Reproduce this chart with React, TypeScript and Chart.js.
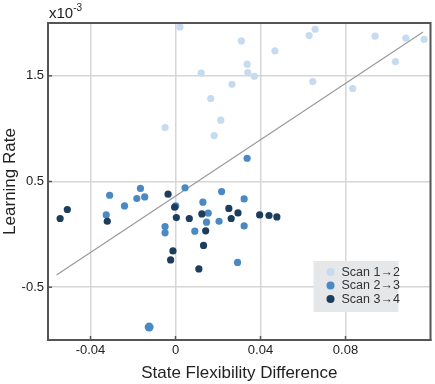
import React, { useEffect, useRef } from "react";
import { Chart, registerables } from "chart.js";

Chart.register(...registerables);

// values in units of 1e-3 for learning rate
const scan12X = [0.0021, 0.0121, 0.0266, 0.0166, 0.0213, -0.0049, 0.0182, 0.031, 0.0337, 0.034, 0.0371, 0.0468, 0.0629, 0.0657, 0.0646, 0.0834, 0.0939, 0.1035, 0.1084, 0.117];
const scan12Y = [1.963, 1.525, 1.42, 1.285, 1.08, 1.011, 0.935, 1.83, 1.61, 1.531, 1.496, 1.736, 1.881, 1.941, 1.446, 1.38, 1.875, 1.635, 1.856, 1.846];

const scan23X = [-0.0165, -0.031, -0.0182, -0.0145, -0.024, -0.0326, 0.0045, 0.0001, -0.0049, -0.0049, 0.0129, 0.0154, 0.0146, 0.0091, 0.0205, 0.0217, 0.0292, -0.0124, 0.0323, 0.0323, 0.0337];
const scan23Y = [0.434, 0.37, 0.339, 0.354, 0.269, 0.184, 0.44, 0.269, 0.074, 0.014, 0.304, 0.2, 0.115, 0.03, 0.124, 0.405, -0.266, -0.878, 0.335, 0.08, 0.72];

const scan34X = [-0.0543, -0.0509, -0.0321, -0.0035, -0.0004, 0.0004, 0.0065, 0.0124, 0.0142, 0.0132, -0.0012, -0.0023, 0.011, 0.0251, 0.0262, 0.0294, 0.0396, 0.044, 0.0477];
const scan34Y = [0.15, 0.235, 0.124, 0.38, 0.257, 0.159, 0.15, 0.193, 0.033, -0.105, -0.157, -0.242, -0.327, 0.245, 0.15, 0.203, 0.184, 0.178, 0.165];

const trendX = [-0.056, 0.1165];
const trendY = [-0.384, 1.916];

const seriesLabels = ["Scan 1\u21922", "Scan 2\u21923", "Scan 3\u21924"];
const seriesColors = ["#c6dbef", "#4a89c4", "#1d3d5c"];

const xTicks = [-0.04, 0, 0.04, 0.08];
const yTicks = [-0.5, 0.5, 1.5];

const FONT = "'Liberation Sans', Arial, sans-serif";

const toPts = (xs: number[], ys: number[]) => xs.map((x, i) => ({ x, y: ys[i] }));

const framePlugin = {
  id: "frame",
  afterDraw(chart: any) {
    const { ctx, chartArea: a, scales } = chart;
    ctx.save();
    // inward tick marks
    ctx.strokeStyle = "#555";
    ctx.lineWidth = 1.5;
    xTicks.forEach((v) => {
      const px = scales.x.getPixelForValue(v);
      ctx.beginPath();
      ctx.moveTo(px, a.bottom);
      ctx.lineTo(px, a.bottom - 4);
      ctx.stroke();
    });
    yTicks.forEach((v) => {
      const py = scales.y.getPixelForValue(v);
      ctx.beginPath();
      ctx.moveTo(a.left, py);
      ctx.lineTo(a.left + 4, py);
      ctx.stroke();
    });
    // box
    ctx.strokeStyle = "#555";
    ctx.lineWidth = 2;
    ctx.strokeRect(a.left, a.top, a.right - a.left, a.bottom - a.top);
    // exponent label
    ctx.fillStyle = "#222";
    ctx.textBaseline = "alphabetic";
    ctx.textAlign = "left";
    ctx.font = `15px ${FONT}`;
    ctx.fillText("x10", a.left + 1, a.top - 5);
    const w = ctx.measureText("x10").width;
    ctx.font = `10px ${FONT}`;
    ctx.fillText("-3", a.left + 1 + w, a.top - 12);
    // legend
    const lx = a.right - 117, ly = a.bottom - 79;
    ctx.fillStyle = "#e6e7e9";
    ctx.fillRect(lx, ly, 85, 51);
    ctx.font = `12.5px ${FONT}`;
    ctx.textBaseline = "middle";
    seriesLabels.forEach((lab, i) => {
      const cy = ly + 11 + i * 13.5;
      ctx.beginPath();
      ctx.arc(lx + 17, cy, 4, 0, Math.PI * 2);
      ctx.fillStyle = seriesColors[i];
      ctx.fill();
      ctx.fillStyle = "#333";
      ctx.fillText(lab, lx + 28, cy + 0.5);
    });
    ctx.restore();
  },
};

export default function App() {
  const ref = useRef<HTMLCanvasElement>(null);
  useEffect(() => {
    if (!ref.current) return;
    const radii23 = scan23Y.map((v) => (v < -0.8 ? 4.5 : 3.6));
    const chart = new Chart(ref.current, {
      type: "scatter",
      data: {
        datasets: [
          {
            type: "line",
            label: "trend",
            data: toPts(trendX, trendY),
            borderColor: "#9a9a9a",
            borderWidth: 1.2,
            pointRadius: 0,
            showLine: true,
            fill: false,
            order: 10,
          } as any,
          {
            label: seriesLabels[0],
            data: toPts(scan12X, scan12Y),
            backgroundColor: seriesColors[0],
            borderColor: seriesColors[0],
            borderWidth: 0,
            pointRadius: 3.6,
            order: 3,
          },
          {
            label: seriesLabels[1],
            data: toPts(scan23X, scan23Y),
            backgroundColor: seriesColors[1],
            borderColor: seriesColors[1],
            borderWidth: 0,
            pointRadius: radii23,
            order: 2,
          },
          {
            label: seriesLabels[2],
            data: toPts(scan34X, scan34Y),
            backgroundColor: seriesColors[2],
            borderColor: seriesColors[2],
            borderWidth: 0,
            pointRadius: 3.6,
            order: 1,
          },
        ],
      },
      options: {
        animation: false,
        responsive: true,
        maintainAspectRatio: false,
        layout: { padding: { top: 23, right: 3, left: 0, bottom: 0 } },
        plugins: { legend: { display: false }, tooltip: { enabled: false } },
        scales: {
          x: {
            type: "linear",
            min: -0.06,
            max: 0.12,
            afterBuildTicks: (s: any) => {
              s.ticks = xTicks.map((v) => ({ value: v }));
            },
            afterFit: (s: any) => {
              s.height = 44;
            },
            ticks: {
              font: { family: FONT, size: 13 },
              color: "#222",
              padding: 3,
              maxRotation: 0,
              callback: (v: any) => (v === 0 ? "0" : String(v)),
            },
            grid: { color: "#d6d6d6", lineWidth: 1.5, drawTicks: false },
            border: { display: true, color: "#555", width: 2 },
            title: {
              display: true,
              text: "State Flexibility Difference",
              font: { family: FONT, size: 17 },
              color: "#222",
              padding: { top: 0, bottom: 0 },
            },
          },
          y: {
            type: "linear",
            min: -1,
            max: 2,
            afterBuildTicks: (s: any) => {
              s.ticks = yTicks.map((v) => ({ value: v }));
            },
            afterFit: (s: any) => {
              s.width = 48;
            },
            ticks: {
              font: { family: FONT, size: 13 },
              color: "#222",
              padding: 4,
              callback: (v: any) => String(v),
            },
            grid: { color: "#d6d6d6", lineWidth: 1.5, drawTicks: false },
            border: { display: true, color: "#555", width: 2 },
            title: {
              display: true,
              text: "Learning Rate",
              font: { family: FONT, size: 17 },
              color: "#222",
              padding: { top: 0, bottom: 2 },
            },
          },
        },
      },
      plugins: [framePlugin],
    });
    return () => chart.destroy();
  }, []);
  return (
    <div style={{ position: "fixed", left: 0, top: 0, width: 435, height: 384, background: "#fff" }}>
      <canvas ref={ref} />
    </div>
  );
}
